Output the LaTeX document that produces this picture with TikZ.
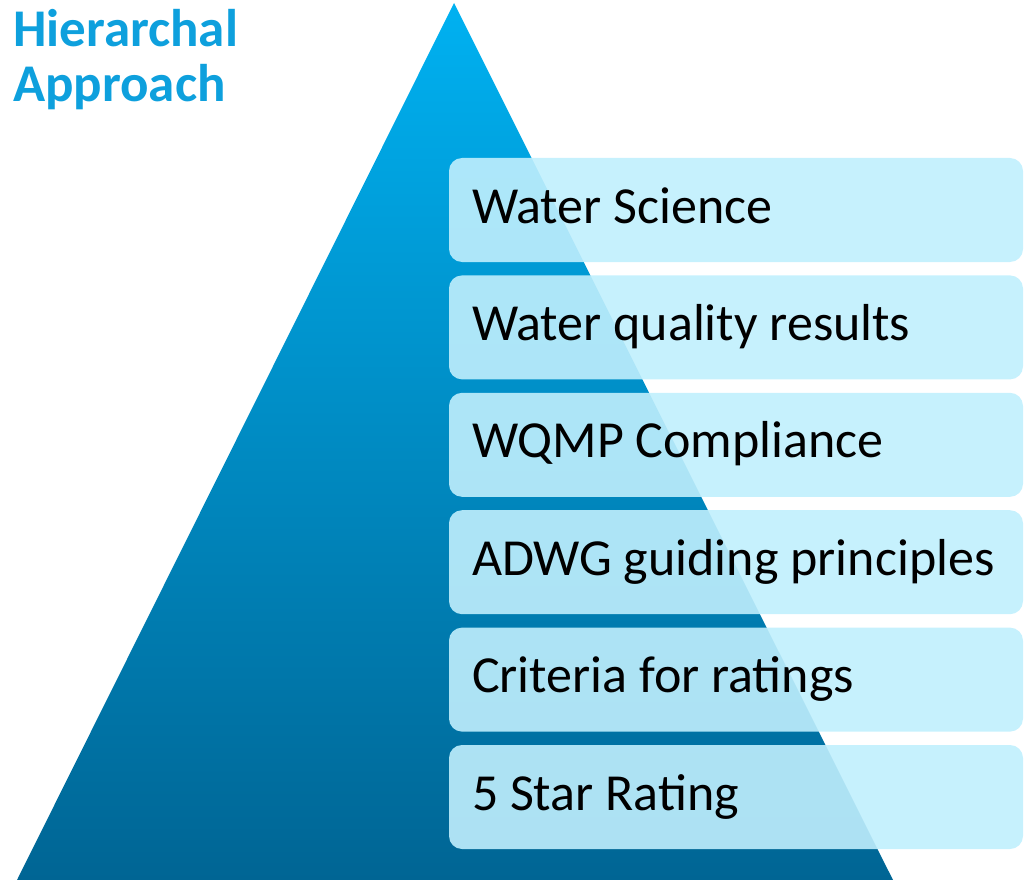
\documentclass[tikz,border=0pt]{standalone}
\usepackage{fontspec}
\setmainfont{Carlito}
\usepackage{xcolor}
\usepackage{tikz}
\usetikzlibrary{positioning}

\definecolor{pyrtop}{RGB}{0,177,241}
\definecolor{pyrbot}{RGB}{0,101,148}
\definecolor{titleblue}{RGB}{14,160,221}
\definecolor{boxfill}{RGB}{192,239,253}

\begin{document}
\begin{tikzpicture}[x=1pt, y=-1pt, node distance=117.4pt]
\tikzstyle{lvl}=[rectangle, rounded corners=13pt, fill=boxfill, fill opacity=0.9, text opacity=1,
  minimum height=104pt, text width=528pt, inner xsep=23pt, align=flush left,
  text height=36pt, text depth=10pt, font=\fontsize{52}{56}\selectfont]
\useasboundingbox (0,0) rectangle (1029,880);
% pyramid
\coordinate (apex) at (454,3);
\coordinate (bl) at (17,880);
\coordinate (br) at (893,880);
\shade[top color=pyrtop, bottom color=pyrbot] (apex) -- (br) -- (bl) -- cycle;
% title
\node[anchor=north west, inner sep=0pt, align=flush left, text=titleblue,
  font=\fontsize{53}{55}\selectfont\bfseries] (title) at (13,9) {Hierarchal\\Approach};
% levels
\node[lvl] (l1) at (736,210) {Water Science};
\node[lvl, below of=l1] (l2) {Water quality results};
\node[lvl, below of=l2] (l3) {WQMP Compliance};
\node[lvl, below of=l3] (l4) {ADWG guiding principles};
\node[lvl, below of=l4] (l5) {Criteria for ratings};
\node[lvl, below of=l5] (l6) {5 Star Rating};
\end{tikzpicture}
\end{document}
